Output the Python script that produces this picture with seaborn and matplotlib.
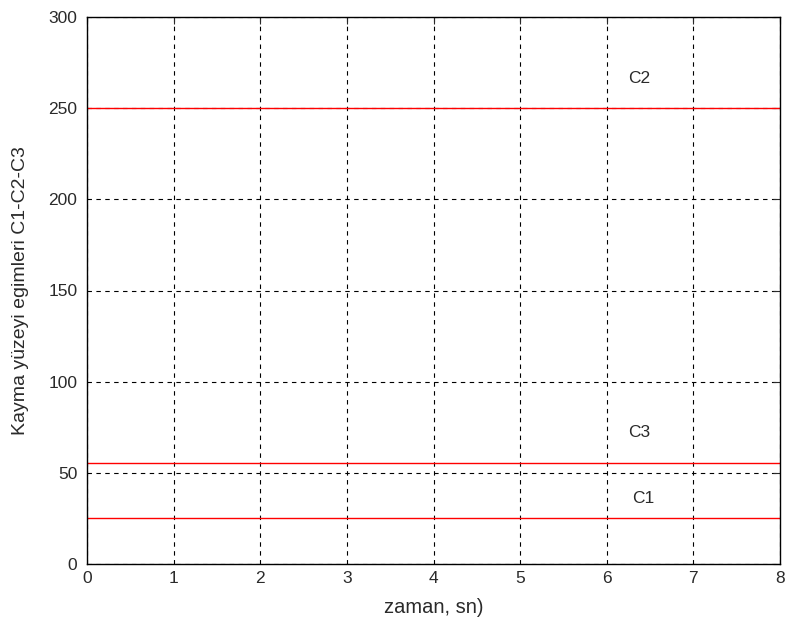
import matplotlib
matplotlib.use("Agg")
import matplotlib.pyplot as plt
import seaborn as sns
import pandas as pd

# Time span (s) and the three sliding-surface slopes
zaman = [0, 8]
c1 = [25, 25]
c2 = [250, 250]
c3 = [55.5, 55.5]

x_ticks = [0, 1, 2, 3, 4, 5, 6, 7, 8]
y_ticks = [0, 50, 100, 150, 200, 250, 300]

# Curve labels: (text, x, y)
etiketler = [("C2", 6.37, 266), ("C3", 6.37, 72), ("C1", 6.42, 36)]

sns.set_theme(style="white")
plt.rcParams["font.family"] = ["Liberation Sans", "DejaVu Sans"]

df = pd.DataFrame({"zaman": zaman * 3,
                   "deger": c1 + c2 + c3,
                   "seri": ["C1"] * 2 + ["C2"] * 2 + ["C3"] * 2})

fig = plt.figure(figsize=(7.85, 6.28), dpi=100)
fig.patch.set_facecolor("white")
ax = fig.add_axes([87 / 785, 1 - 564 / 628, (780 - 87) / 785, (564 - 17) / 628])

sns.lineplot(data=df, x="zaman", y="deger", units="seri", estimator=None,
             color="#ff0000", linewidth=1.0, ax=ax, legend=False)

ax.set_xlim(0, 8)
ax.set_ylim(0, 300)
ax.set_xticks(x_ticks)
ax.set_yticks(y_ticks)
ax.grid(True, color="black", linestyle=(0, (4, 4)), linewidth=0.8)
ax.set_axisbelow(True)

for s in ax.spines.values():
    s.set_color("black")
    s.set_linewidth(1.0)
    s.set_visible(True)

ax.tick_params(direction="in", length=5, width=0.8, colors="#2a2a2a",
               labelsize=12.5, top=True, right=True)
ax.tick_params(axis="x", pad=5)
ax.tick_params(axis="y", pad=7)

ax.set_xlabel("zaman, sn)", fontsize=14.5, color="#2a2a2a")
ax.set_ylabel("Kayma yüzeyi egimleri C1-C2-C3", fontsize=14, color="#2a2a2a")
ax.xaxis.set_label_coords(0.5, -0.062)
ax.yaxis.set_label_coords(-0.083, 0.5)

for metin, x, y in etiketler:
    ax.text(x, y, metin, ha="center", va="center", fontsize=12.5, color="#2a2a2a")

fig.savefig("out.png", dpi=100, facecolor="white")
